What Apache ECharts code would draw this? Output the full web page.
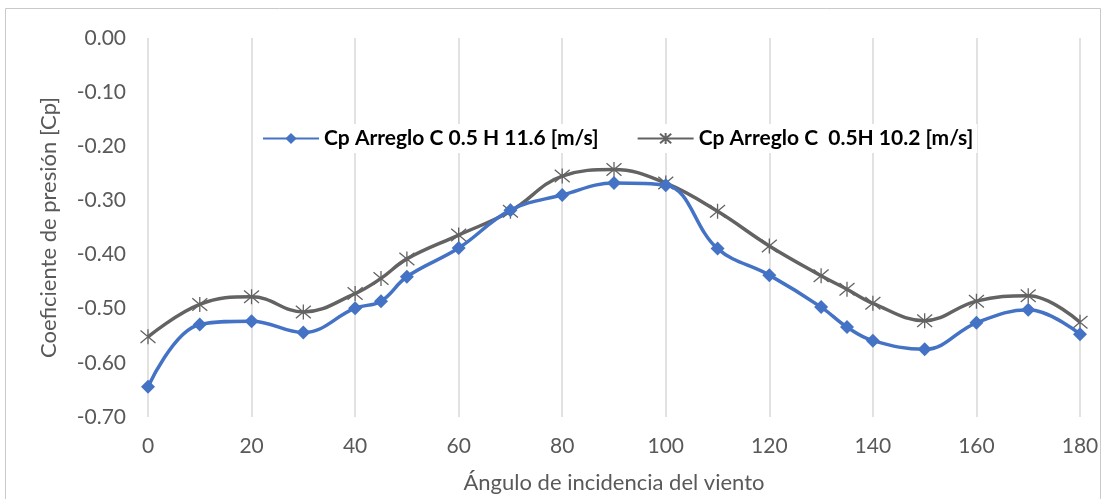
<!DOCTYPE html>
<html>
<head>
<meta charset="utf-8">
<script src="https://cdn.jsdelivr.net/npm/echarts@6/dist/echarts.min.js"></script>
<style>
  html, body { margin: 0; padding: 0; background: #fff; }
  #chart { width: 1120px; height: 499px; }
</style>
</head>
<body>
<div id="chart"></div>
<script>
// angulos de incidencia
var angles = [0, 10, 20, 30, 40, 45, 50, 60, 70, 80, 90, 100, 110, 120, 130, 135, 140, 150, 160, 170, 180];
// Cp Arreglo C 0.5 H 11.6 [m/s]
var cpA = [-0.644, -0.529, -0.523, -0.544, -0.499, -0.486, -0.441, -0.388, -0.318, -0.290, -0.268, -0.272, -0.389, -0.438, -0.497, -0.534, -0.559, -0.575, -0.526, -0.502, -0.547];
// Cp Arreglo C 0.5H 10.2 [m/s]
var cpB = [-0.552, -0.492, -0.478, -0.506, -0.472, -0.444, -0.408, -0.364, -0.320, -0.255, -0.243, -0.268, -0.320, -0.384, -0.439, -0.464, -0.490, -0.522, -0.486, -0.476, -0.525];
var seriesNames = ['Cp Arreglo C 0.5 H 11.6 [m/s]', 'Cp Arreglo C  0.5H 10.2 [m/s]'];

function pairs(xs, ys) {
    var out = [];
    for (var i = 0; i < xs.length; i++) out.push([xs[i], ys[i]]);
    return out;
}

var font = 'Lato, "Open Sans", sans-serif';
var asterisk = 'path://M0,0L10,10M10,0L0,10M5,-1L5,11';

var myChart = echarts.init(document.getElementById('chart'));
var option = {
    animation: false,
    backgroundColor: '#fff',
    graphic: [{
        type: 'rect',
        shape: { x: 5.5, y: 8.5, width: 1095, height: 520 },
        style: { fill: 'none', stroke: '#c9c9c9', lineWidth: 1 },
        silent: true
    }],
    grid: { left: 148, right: 40, top: 38, bottom: 79 },
    legend: {
        left: 258,
        top: 124,
        backgroundColor: '#fff',
        padding: [4, 4],
        itemWidth: 56,
        itemHeight: 14,
        itemGap: 38,
        textStyle: {
            fontFamily: '"Liberation Sans Narrow", "Arial Narrow", ' + font,
            fontWeight: 'bold',
            fontSize: 21,
            color: '#000'
        },
        data: seriesNames
    },
    xAxis: {
        type: 'value',
        min: 0,
        max: 180,
        interval: 20,
        name: 'Ángulo de incidencia del viento',
        nameLocation: 'middle',
        nameGap: 55,
        nameTextStyle: { fontFamily: font, fontSize: 22, color: '#595959' },
        axisLine: { show: false },
        axisTick: { show: false },
        axisLabel: { fontFamily: font, fontSize: 21, color: '#595959', margin: 19 },
        splitLine: { show: true, lineStyle: { color: '#d9d9d9', width: 1.5 } }
    },
    yAxis: {
        type: 'value',
        min: -0.7,
        max: 0,
        interval: 0.1,
        name: 'Coeficiente de presión [Cp]',
        nameLocation: 'middle',
        nameGap: 88,
        nameTextStyle: { fontFamily: font, fontSize: 22, color: '#595959' },
        axisLine: { show: false },
        axisTick: { show: false },
        axisLabel: {
            fontFamily: font, fontSize: 21, color: '#595959', margin: 22,
            formatter: function (v) { return v.toFixed(2); }
        },
        splitLine: { show: false }
    },
    series: [{
        name: seriesNames[0],
        type: 'line',
        smooth: 0.4,
        data: pairs(angles, cpA),
        symbol: 'diamond',
        symbolSize: 14,
        itemStyle: { color: '#4472C4' },
        lineStyle: { color: '#4472C4', width: 3.5 },
        z: 3
    }, {
        name: seriesNames[1],
        type: 'line',
        smooth: 0.4,
        data: pairs(angles, cpB),
        symbol: asterisk,
        symbolSize: 15,
        itemStyle: { color: '#636363', borderColor: '#636363', borderWidth: 1.3 },
        lineStyle: { color: '#636363', width: 3.5 },
        z: 2
    }]
};
myChart.setOption(option);
</script>
</body>
</html>
